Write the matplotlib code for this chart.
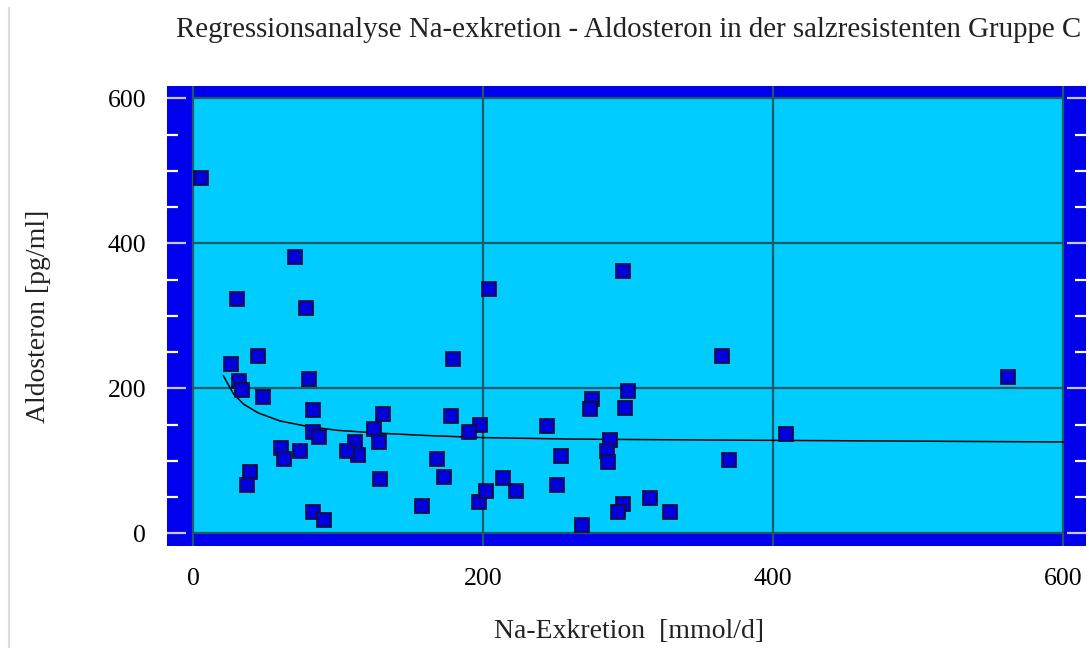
import matplotlib
matplotlib.use("Agg")
import matplotlib.pyplot as plt
from matplotlib.patches import Rectangle
from matplotlib.lines import Line2D

na_excr = [5.5, 70, 30, 78, 204, 296.5, 365, 562, 45, 26, 179, 31.5, 34, 80, 48,
           82.5, 131, 178, 275, 274, 300, 298, 244, 198, 190, 125, 82.5, 87, 128,
           112, 113.5, 106.5, 287.5, 285.5, 286, 369.5, 409, 60.5, 63, 74, 39, 37,
           129, 82.5, 90, 158, 168, 173, 197.5, 202, 214, 223, 254, 251, 296.5,
           293, 315, 329, 268]
aldo = [490, 381, 323, 311, 337, 362, 245, 216, 245, 234, 240, 210, 198, 213, 188,
        170, 165, 162, 185, 172, 196, 173, 148, 150, 140, 144, 140, 133, 126,
        126, 108, 114, 129, 114, 99, 101, 137, 117, 102, 114, 84, 67,
        75, 30, 19, 37, 102, 78, 43, 58, 76, 58, 107, 67, 41,
        30, 49, 30, 12]

# Regressionskurve
fit_x = [21, 28, 35, 45, 60, 80, 100, 130, 160, 200, 260, 330, 420, 600]
fit_y = [217, 192, 178, 166, 155, 147, 142, 138, 135, 132, 130, 129, 128, 126]

ticks = [0, 200, 400, 600]
tick_labels = ["0", "200", "400", "600"]

plt.rcParams['font.family'] = ['Liberation Serif', 'DejaVu Serif']

fig = plt.figure(figsize=(10.89, 6.48), dpi=100)
ax = fig.add_axes([0.1534, 0.1574, 0.8439, 0.7099])

ax.set_xlim(-17.9, 615.9)
ax.set_ylim(-17.5, 617)
ax.set_facecolor('#0000ee')
for s in ax.spines.values():
    s.set_visible(False)

# hellblaue Datenflaeche
ax.add_patch(Rectangle((ticks[0], ticks[0]), ticks[-1] - ticks[0], ticks[-1] - ticks[0],
                       facecolor='#00ccff', edgecolor='none', zorder=0.5))

grid_col = '#1f5866'
for t in ticks:
    ax.axvline(t, color=grid_col, lw=1.6, zorder=1)
ax.hlines(ticks, ticks[0], ticks[-1], color=grid_col, lw=1.6, zorder=1)

ax.plot(fit_x, fit_y, color='black', lw=1.1, zorder=2)
ax.plot(na_excr, aldo, 's', ms=9.5, mfc='#0000dd', mec='#10103a', mew=1.3, zorder=3)

ax.set_xticks(ticks)
ax.set_xticklabels(tick_labels)
ax.set_yticks(ticks)
ax.set_yticklabels(tick_labels)
ax.set_yticks(range(50, 600, 50), minor=True)
ax.set_xticks([], minor=True)

ax.tick_params(axis='y', which='major', direction='in', left=True, right=True,
               length=13.5, width=1.6, color='#c8c8e8', pad=15, labelsize=18.5)
ax.tick_params(axis='y', which='minor', direction='in', left=True, right=True,
               length=8, width=1.6, color='white')
ax.tick_params(axis='x', which='major', length=0, pad=16, labelsize=18.5)

fig.text(0.577, 1 - 30 / 648,
         "Regressionsanalyse Na-exkretion - Aldosteron in der salzresistenten Gruppe C",
         ha='center', va='center', fontsize=20.8, color='#222222')
fig.text(0.5776, 1 - 632 / 648, "Na-Exkretion  [mmol/d]",
         ha='center', va='center', fontsize=20, color='#222222')
fig.text(0.035, 1 - 316 / 648, "Aldosteron [pg/ml]", rotation=90,
         ha='center', va='center', fontsize=20, color='#222222')

# Bildrand links
fig.add_artist(Line2D([9 / 1089, 9 / 1089], [0, 1 - 8 / 648], color='#dddddd', lw=1.5))

fig.savefig("out.png", dpi=100)
